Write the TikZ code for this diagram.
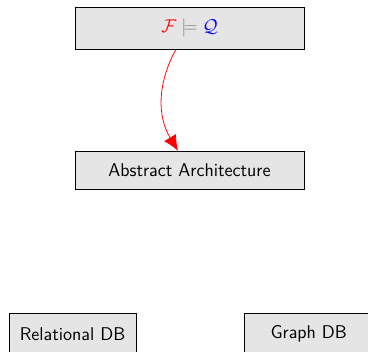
\documentclass[tikz,border=0pt]{standalone}
\usepackage{xcolor}
\usepackage{tikz}
\usetikzlibrary{shapes,positioning,arrows,arrows.meta}
\usepackage{amsmath}
\usepackage{amssymb}
\renewcommand{\familydefault}{\sfdefault}

\begin{document}
\begin{tikzpicture}[ 
    % Define node styles
    scale = 1,
    node distance = 66pt,
    font = \large,
    layer/.style={rectangle, fill=gray!20, draw, align=center, minimum width=149pt, minimum height=24.7pt},
    dbase/.style={rectangle, fill=gray!20, draw, align=center, minimum width=82.5pt, minimum height=26.5pt},
]

% Picture frame
\useasboundingbox (-123.2pt,18.2pt) rectangle (116pt,-210.2pt);

% Main nodes
\node[layer, minimum height=27.3pt] (query) {$\textcolor{red}{\mathcal{F}} \mathrel{\textcolor{gray}{\models}} \textcolor{blue}{\mathcal{Q}}$};
\node[layer, below= of query] (arch) {Abstract Architecture};

\node[dbase, below= 80.6pt of arch, xshift=-76pt] (rel) {Relational DB};
\node[dbase, below= 80.6pt of arch, xshift=77.5pt, minimum width=84pt] (graph) {Graph DB};

% Arrows for main flow
\draw[-{Latex[length=10pt,width=9pt]}, red, line width=0.5pt] ([xshift=-8.8pt]query.south) to[bend right=30] ([xshift=-7.5pt]arch.north);

\end{tikzpicture}
\end{document}
